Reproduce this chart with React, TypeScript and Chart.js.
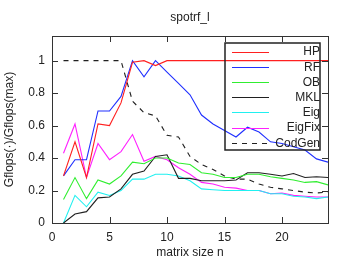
import React, { useEffect, useRef } from "react";
import { Chart, registerables } from "chart.js";

Chart.register(...registerables);

const sizes = [1,2,3,4,5,6,7,8,9,10,11,12,13,14,15,16,17,18,19,20,21,22,23,24];
const hp = [0.29,0.50,0.28,0.61,0.60,0.74,0.99,1.0,0.97,1.0,1.0,1.0,1.0,1.0,1.0,1.0,1.0,1.0,1.0,1.0,1.0,1.0,1.0,1.0];
const rf = [0.29,0.39,0.39,0.69,0.69,0.78,1.0,0.90,1.0,0.93,0.86,0.79,0.665,0.61,0.57,0.53,0.59,0.56,0.50,0.49,0.47,0.45,0.395,0.375];
const ob = [0.145,0.28,0.15,0.265,0.24,0.29,0.375,0.365,0.40,0.40,0.37,0.36,0.31,0.30,0.28,0.28,0.30,0.30,0.285,0.275,0.265,0.25,0.255,0.235];
const mkl = [0.0,0.055,0.07,0.155,0.16,0.21,0.30,0.32,0.41,0.42,0.275,0.275,0.26,0.26,0.26,0.265,0.31,0.31,0.30,0.29,0.305,0.28,0.285,0.28];
const eig = [0.0,0.17,0.10,0.19,0.17,0.20,0.27,0.27,0.30,0.30,0.29,0.26,0.21,0.205,0.20,0.20,0.20,0.20,0.18,0.18,0.165,0.16,0.15,0.16];
const eigFix = [0.43,0.61,0.28,0.49,0.39,0.44,0.545,0.38,0.41,0.39,0.34,0.30,0.25,0.24,0.22,0.215,0.20,0.20,0.18,0.185,0.17,0.165,0.16,0.16];
const codGen = [1.0,1.0,1.0,1.0,1.0,1.0,0.75,0.68,0.66,0.54,0.53,0.41,0.36,0.33,0.29,0.27,0.27,0.24,0.22,0.21,0.20,0.19,0.185,0.19];

const xTicks = [0, 5, 10, 15, 20];
const yTicks = [0, 0.2, 0.4, 0.6, 0.8, 1];
const titleText = "spotrf_l";
const xLabel = "matrix size n";
const yLabel = "Gflops(\u00b7)/Gflops(max)";

const seriesNames = ["HP", "RF", "OB", "MKL", "Eig", "EigFix", "CodGen"];
const seriesData = [hp, rf, ob, mkl, eig, eigFix, codGen];
const seriesColors = ["#ff2020", "#2030ff", "#30ee30", "#202020", "#20f0f0", "#ff20ff", "#202020"];
const seriesDash = [[], [], [], [], [], [], [5, 5]];

const FAMILY = "'Liberation Sans', Arial, sans-serif";
const FONT = "12px " + FAMILY;

const framePlugin = {
  id: "frame",
  afterDatasetsDraw(chart: any) {
    const { ctx, chartArea: a, scales } = chart;
    ctx.save();
    ctx.strokeStyle = "#333";
    ctx.lineWidth = 1;
    ctx.setLineDash([]);
    ctx.strokeRect(Math.round(a.left) + 0.5, Math.round(a.top) + 0.5, Math.round(a.right - a.left), Math.round(a.bottom - a.top));
    const tl = 6;
    ctx.beginPath();
    for (const v of xTicks) {
      const x = Math.round(scales.x.getPixelForValue(v)) + 0.5;
      ctx.moveTo(x, a.bottom); ctx.lineTo(x, a.bottom - tl);
      ctx.moveTo(x, a.top); ctx.lineTo(x, a.top + tl);
    }
    for (const v of yTicks) {
      const y = Math.round(scales.y.getPixelForValue(v)) + 0.5;
      ctx.moveTo(a.left, y); ctx.lineTo(a.left + tl, y);
      ctx.moveTo(a.right, y); ctx.lineTo(a.right - tl, y);
    }
    ctx.stroke();

    // texts
    ctx.fillStyle = "#222";
    ctx.font = FONT;
    ctx.textAlign = "center";
    ctx.textBaseline = "middle";
    ctx.fillText(titleText, (a.left + a.right) / 2, 18);
    ctx.fillText(xLabel, (a.left + a.right) / 2, 253);
    ctx.save();
    ctx.translate(10, (a.top + a.bottom) / 2);
    ctx.rotate(-Math.PI / 2);
    ctx.fillText(yLabel, 0, 0);
    ctx.restore();

    // legend
    const lx0 = 225, lx1 = 320, ly0 = 43, ly1 = 150;
    ctx.lineWidth = 1.5;
    ctx.strokeStyle = "#222";
    ctx.strokeRect(lx0, ly0, lx1 - lx0, ly1 - ly0);
    ctx.textAlign = "right";
    for (let i = 0; i < seriesNames.length; i++) {
      const y = 51.5 + i * 15.2;
      ctx.beginPath();
      ctx.strokeStyle = seriesColors[i];
      ctx.lineWidth = 1;
      ctx.setLineDash(seriesDash[i]);
      ctx.moveTo(232, Math.round(y) + 0.5);
      ctx.lineTo(269, Math.round(y) + 0.5);
      ctx.stroke();
      ctx.setLineDash([]);
      ctx.fillStyle = "#222";
      ctx.fillText(seriesNames[i], 320, y + 0.5);
    }
    ctx.restore();
  },
};

export default function App() {
  const ref = useRef<HTMLCanvasElement>(null);
  useEffect(() => {
    const chart = new Chart(ref.current!, {
      type: "line",
      data: {
        labels: sizes,
        datasets: seriesNames.map((name, i) => ({
          label: name,
          data: sizes.map((s, j) => ({ x: s, y: seriesData[i][j] })),
          borderColor: seriesColors[i],
          backgroundColor: seriesColors[i],
          borderWidth: 1.1,
          borderDash: seriesDash[i],
          pointRadius: 0,
          tension: 0,
          fill: false,
        })),
      },
      options: {
        animation: false,
        responsive: false,
        maintainAspectRatio: false,
        layout: { padding: { top: 36, right: 21, left: 0, bottom: 0 } },
        plugins: { legend: { display: false }, title: { display: false }, tooltip: { enabled: false } },
        scales: {
          x: {
            type: "linear",
            min: 0,
            max: 24,
            grid: { display: false, tickLength: 0 },
            border: { display: false },
            ticks: {
              color: "#222",
              font: { family: FAMILY, size: 12 },
              padding: 7,
              maxRotation: 0,
            },
            afterBuildTicks: (s: any) => { s.ticks = xTicks.map((v) => ({ value: v })); },
            afterFit: (s: any) => { s.height = 39; },
          },
          y: {
            type: "linear",
            min: 0,
            max: 1.152,
            grid: { display: false, tickLength: 0 },
            border: { display: false },
            ticks: {
              color: "#222",
              font: { family: FAMILY, size: 12 },
              padding: 7,
              callback: (v: any) => String(Math.round(Number(v) * 10) / 10),
            },
            afterBuildTicks: (s: any) => { s.ticks = yTicks.map((v) => ({ value: v })); },
            afterFit: (s: any) => { s.width = 52; },
          },
        },
      },
      plugins: [framePlugin],
    } as any);
    return () => chart.destroy();
  }, []);
  return (
    <div style={{ position: "fixed", left: 0, top: 0, width: 349, height: 262, background: "#fff" }}>
      <canvas ref={ref} width={349} height={262} style={{ width: 349, height: 262 }} />
    </div>
  );
}
